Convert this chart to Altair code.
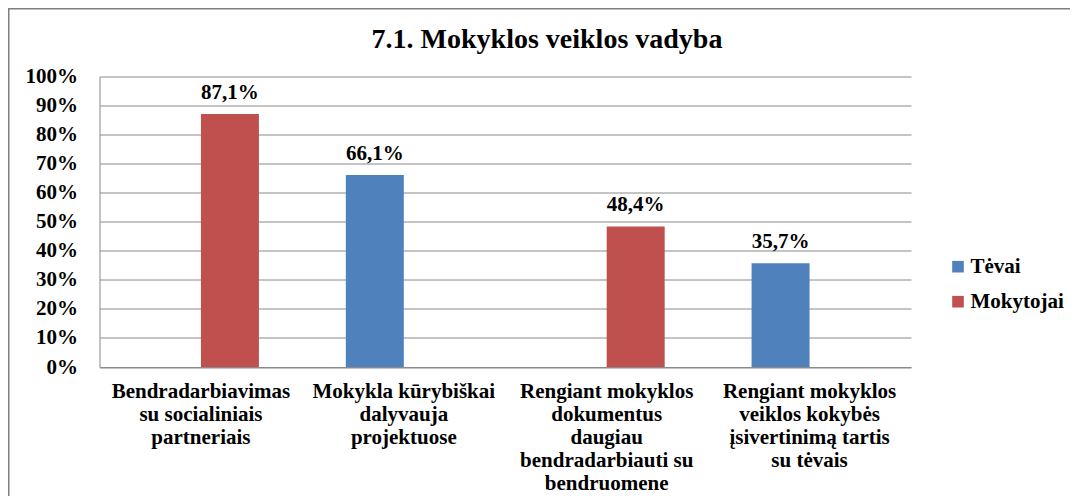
import altair as alt
import pandas as pd

title_text = "7.1. Mokyklos veiklos vadyba"
categories = [
    "Bendradarbiavimas|su socialiniais|partneriais",
    "Mokykla kūrybiškai|dalyvauja|projektuose",
    "Rengiant mokyklos|dokumentus|daugiau|bendradarbiauti su|bendruomene",
    "Rengiant mokyklos|veiklos kokybės|įsivertinimą tartis|su tėvais",
]
series_names = ["Tėvai", "Mokytojai"]
bar_series = ["Mokytojai", "Tėvai", "Mokytojai", "Tėvai"]
values = [87.1, 66.1, 48.4, 35.7]
y_ticks = [0, 10, 20, 30, 40, 50, 60, 70, 80, 90, 100]
colors = ["#4F81BD", "#C0504D"]

FONT = "'Liberation Serif', 'Times New Roman', Times, serif"
GRID = "#8a8a8a"

df = pd.DataFrame({"cat": categories, "series": bar_series, "value": values})

base = alt.Chart(df).transform_calculate(
    label="replace(format(datum.value, '.1f'), '.', ',') + '%'"
).encode(
    x=alt.X(
        "cat:N",
        sort=categories,
        scale=alt.Scale(paddingInner=0, paddingOuter=0),
        axis=alt.Axis(
            title=None,
            labelExpr="split(datum.label, '|')",
            labelAngle=0,
            ticks=False,
            labelPadding=13,
            labelLineHeight=23,
            labelBaseline="top",
            labelLimit=400,
            labelOverlap=False,
            labelFlush=False,
            labelFont=FONT,
            labelFontSize=21,
            labelFontWeight="bold",
            labelColor="#000000",
            domainColor=GRID,
        ),
    ),
    xOffset=alt.XOffset(
        "series:N",
        scale=alt.Scale(domain=series_names, paddingInner=0, paddingOuter=0.749),
    ),
    y=alt.Y(
        "value:Q",
        scale=alt.Scale(domain=[0, 100]),
        axis=alt.Axis(
            title=None,
            values=y_ticks,
            labelExpr="datum.value + '%'",
            ticks=False,
            labelPadding=22,
            labelFont=FONT,
            labelFontSize=21,
            labelFontWeight="bold",
            labelColor="#000000",
            domainColor=GRID,
            gridColor=GRID,
        ),
    ),
)

bars = base.mark_bar().encode(
    color=alt.Color(
        "series:N",
        scale=alt.Scale(domain=series_names, range=colors),
        legend=alt.Legend(
            title=None,
            orient="none",
            legendX=848,
            legendY=179.7,
            symbolType="square",
            symbolSize=135,
            symbolStrokeWidth=0,
            labelFont=FONT,
            labelFontSize=21,
            labelFontWeight="bold",
            labelColor="#000000",
            labelOffset=2,
            rowPadding=13,
            padding=0,
        ),
    )
)

texts = base.mark_text(
    baseline="alphabetic", dy=-15, font=FONT, fontSize=21, fontWeight="bold", color="#000000"
).encode(text="label:N")

one = pd.DataFrame({"t": [title_text]})

frame = alt.Chart(one).mark_rect(
    fillOpacity=0, stroke="#7f7f7f", strokeWidth=1.5
).encode(
    x=alt.value(-90.75), x2=alt.value(1000), y=alt.value(-67.75), y2=alt.value(600)
)

title = alt.Chart(one).mark_text(
    align="center", baseline="alphabetic", font=FONT, fontSize=28, fontWeight="bold", color="#000000"
).encode(x=alt.value(447.5), y=alt.value(-28.4), text="t:N")

chart = alt.layer(frame, bars, texts, title).properties(
    width=811.5,
    height=290.5,
    autosize=alt.AutoSizeParams(type="none"),
    padding={"left": 91.5, "top": 68.5, "right": 159, "bottom": 129},
).configure_view(strokeWidth=0)

chart.save("out.html", embed_options={"renderer": "svg", "actions": False})
